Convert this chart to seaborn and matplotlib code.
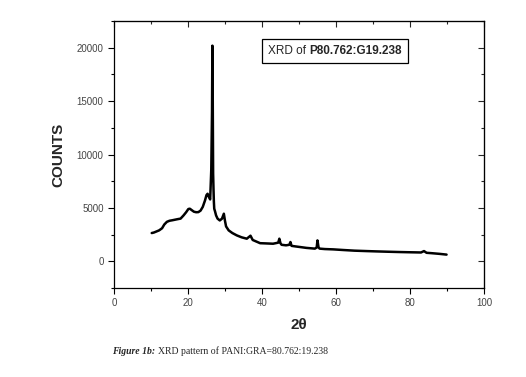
import numpy as np
import pandas as pd
import seaborn as sns
import matplotlib.pyplot as plt
from matplotlib.offsetbox import TextArea, HPacker, AnchoredOffsetbox
from matplotlib.ticker import MultipleLocator

# XRD pattern
two_theta = [10.2, 10.8, 11.5, 12.2, 13.0, 13.6, 14.3, 15.0, 15.8, 16.5, 17.2, 18.0, 18.8,
             19.5, 20.1, 20.5, 21.0, 21.6, 22.2, 22.8, 23.4, 24.0, 24.6, 25.0, 25.3, 25.7,
             26.0, 26.3, 26.5, 26.6, 26.7, 26.8, 26.9, 27.0, 27.1, 27.3, 27.6, 28.0, 28.6,
             29.2, 29.7, 30.0, 30.3, 31.0, 32.0, 33.2, 34.5, 35.9, 36.9, 37.5, 38.5, 39.5,
             41.0, 43.0, 44.4, 44.7, 45.0, 45.3, 46.5, 47.4, 47.7, 48.0, 49.0, 50.3, 52.0,
             54.3, 54.8, 55.0, 55.3, 55.6, 57.0, 59.3, 62.0, 65.0, 68.3, 71.0, 74.0, 77.3,
             80.0, 83.0, 83.8, 84.5, 86.0, 88.0, 89.9]
counts = [2650, 2700, 2800, 2900, 3100, 3450, 3700, 3800, 3850, 3900, 3950, 4000, 4300,
          4600, 4900, 4930, 4800, 4650, 4600, 4610, 4750, 5100, 5700, 6200, 6330, 6000,
          5800, 8600, 14000, 20200, 15000, 8230, 6800, 5600, 4930, 4700, 4300, 4000, 3830,
          4000, 4460, 3800, 3270, 2900, 2650, 2430, 2250, 2120, 2400, 2000, 1850, 1700,
          1680, 1650, 1750, 2120, 1700, 1550, 1500, 1550, 1810, 1450, 1400, 1340, 1260,
          1190, 1300, 1960, 1300, 1190, 1150, 1120, 1060, 1000, 960, 930, 900, 870,
          850, 830, 960, 800, 760, 700, 630]

df = pd.DataFrame({"two_theta": two_theta, "counts": counts})

sns.set_style("ticks")
plt.rcParams["font.family"] = ["Liberation Sans", "DejaVu Sans"]

fig = plt.figure(figsize=(5.26, 3.77), dpi=100)
ax = fig.add_axes([0.2167, 0.236, 0.7033, 0.708])

sns.lineplot(data=df, x="two_theta", y="counts", color="black", linewidth=1.8, ax=ax)

ax.set_xlim(0, 100)
ax.set_ylim(-2500, 22500)
ax.xaxis.set_major_locator(MultipleLocator(20))
ax.xaxis.set_minor_locator(MultipleLocator(10))
ax.yaxis.set_major_locator(MultipleLocator(5000))
ax.yaxis.set_minor_locator(MultipleLocator(2500))
ax.tick_params(which="both", direction="out", top=False, right=False,
               labelsize=7, labelcolor="#444444", width=0.8, color="black")
ax.tick_params(which="major", length=4)
ax.tick_params(which="minor", length=2.5)
for side in ax.spines.values():
    side.set_linewidth(0.9)
    side.set_color("black")

# inward ticks on top and right, without labels
top = ax.secondary_xaxis("top")
top.xaxis.set_major_locator(MultipleLocator(20))
top.xaxis.set_minor_locator(MultipleLocator(10))
top.tick_params(which="both", direction="in", labeltop=False, width=0.8)
top.tick_params(which="major", length=4)
top.tick_params(which="minor", length=2.5)
right = ax.secondary_yaxis("right")
right.yaxis.set_major_locator(MultipleLocator(5000))
right.yaxis.set_minor_locator(MultipleLocator(2500))
right.tick_params(which="both", direction="in", labelright=False, width=0.8)
right.tick_params(which="major", length=4)
right.tick_params(which="minor", length=2.5)

ax.set_xlabel("2θ", fontsize=11, fontweight="bold", labelpad=7)
ax.set_ylabel("COUNTS", fontsize=11, fontweight="bold", labelpad=8)

# legend-like text box
box = HPacker(children=[TextArea("XRD of ", textprops=dict(fontsize=8.5)),
                        TextArea("P80.762:G19.238", textprops=dict(fontsize=8.5, fontweight="bold"))],
              align="baseline", pad=0, sep=0)
anchored = AnchoredOffsetbox(loc="center", child=box, pad=0.45, frameon=True,
                             bbox_to_anchor=(335 / 526, 1 - 51 / 377),
                             bbox_transform=fig.transFigure, borderpad=0)
anchored.patch.set_linewidth(0.9)
anchored.patch.set_edgecolor("black")
fig.add_artist(anchored)

# caption
caption = HPacker(children=[TextArea("Figure 1b: ", textprops=dict(fontsize=7, family="Liberation Serif",
                                                                   fontweight="bold", style="italic")),
                            TextArea("XRD pattern of PANI:GRA=80.762:19.238",
                                     textprops=dict(fontsize=7, family="Liberation Serif"))],
                  align="baseline", pad=0, sep=0)
cap = AnchoredOffsetbox(loc="center left", child=caption, pad=0, frameon=False,
                        bbox_to_anchor=(112 / 526, 1 - 351 / 377),
                        bbox_transform=fig.transFigure, borderpad=0)
fig.add_artist(cap)

fig.savefig("out.png", dpi=100)
